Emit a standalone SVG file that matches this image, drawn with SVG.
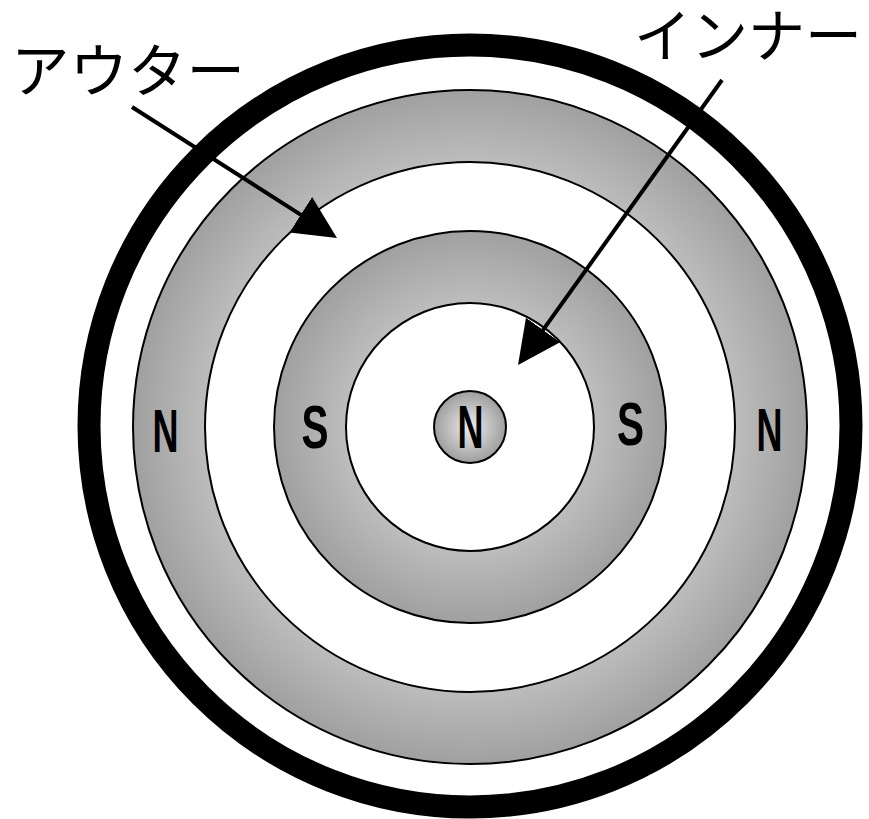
<svg xmlns="http://www.w3.org/2000/svg" width="869" height="819" viewBox="0 0 869 819">
  <defs>
    <radialGradient id="gOuter" gradientUnits="userSpaceOnUse" cx="470" cy="427" r="337">
      <stop offset="0.78" stop-color="#bdbdbd"/>
      <stop offset="1" stop-color="#a0a0a0"/>
    </radialGradient>
    <radialGradient id="gInner" gradientUnits="userSpaceOnUse" cx="470" cy="427" r="196">
      <stop offset="0.63" stop-color="#bdbdbd"/>
      <stop offset="1" stop-color="#a0a0a0"/>
    </radialGradient>
    <radialGradient id="gCore" cx="0.5" cy="0.5" r="0.5">
      <stop offset="0" stop-color="#ededed"/>
      <stop offset="1" stop-color="#9e9e9e"/>
    </radialGradient>
    <marker id="ah" markerUnits="userSpaceOnUse" markerWidth="46" markerHeight="46" viewBox="0 -23 46 46" refX="3" refY="0" orient="auto">
      <path d="M0,-21 L43,0 L0,21 Z" fill="#000"/>
    </marker>
  </defs>
  <style>
    .white { fill: #fff; stroke: #000; stroke-width: 2; }
    .pole { font-family: "Liberation Sans", Arial, sans-serif; font-size: 61px; font-weight: bold; fill: #000; text-anchor: middle; }
    .jp { font-family: "Noto Sans CJK JP", "Noto Sans CJK SC", sans-serif; font-size: 58px; fill: #000; }
    .conn { stroke: #000; stroke-width: 4; fill: none; marker-end: url(#ah); }
  </style>
  <rect x="0" y="0" width="869" height="819" fill="#fff"/>

  <g id="case">
    <circle cx="470" cy="426" r="381" fill="none" stroke="#000" stroke-width="23"/>
  </g>
  <g id="outer-ring">
    <circle cx="470" cy="427" r="337" fill="url(#gOuter)" stroke="#000" stroke-width="2"/>
    <circle class="white" cx="470" cy="427" r="265"/>
  </g>
  <g id="inner-ring">
    <circle cx="470" cy="427" r="196" fill="url(#gInner)" stroke="#000" stroke-width="2"/>
    <circle class="white" cx="470" cy="427" r="124"/>
  </g>
  <g id="core">
    <circle cx="470" cy="427" r="36" fill="url(#gCore)" stroke="#000" stroke-width="2"/>
  </g>

  <g id="pole-labels">
    <text class="pole" x="165.5" y="452" textLength="26" lengthAdjust="spacingAndGlyphs">N</text>
    <text class="pole" x="315" y="448" textLength="27" lengthAdjust="spacingAndGlyphs">S</text>
    <text class="pole" x="470.5" y="448" textLength="26" lengthAdjust="spacingAndGlyphs">N</text>
    <text class="pole" x="630.5" y="445" textLength="27" lengthAdjust="spacingAndGlyphs">S</text>
    <text class="pole" x="769.5" y="451" textLength="26" lengthAdjust="spacingAndGlyphs">N</text>
  </g>

  <g id="label-outer">
    <text class="jp" x="11" y="92" textLength="234" lengthAdjust="spacingAndGlyphs">アウター</text>
  </g>
  <g id="label-inner">
    <text class="jp" x="634" y="57" textLength="228" lengthAdjust="spacingAndGlyphs">インナー</text>
  </g>

  <g id="connectors">
    <line class="conn" x1="132" y1="107" x2="303.3" y2="216.4"/>
    <line class="conn" x1="722" y1="80" x2="541.3" y2="332.4"/>
  </g>
</svg>
